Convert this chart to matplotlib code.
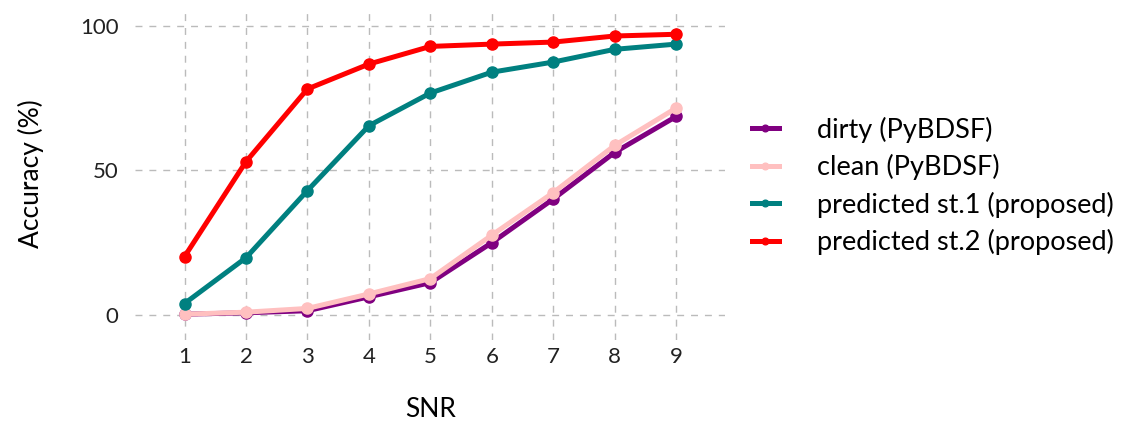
import matplotlib
matplotlib.use("Agg")
from matplotlib import pyplot as plt

plt.rcParams['font.family'] = ['Lato', 'DejaVu Sans']

snr = [1, 2, 3, 4, 5, 6, 7, 8, 9]
dirty = [0.3, 0.8, 1.5, 6.3, 11.2, 25.0, 40.1, 56.2, 68.6]
clean = [0.3, 1.0, 2.3, 7.3, 12.6, 27.6, 42.3, 58.6, 71.5]
pred_st1 = [4.0, 19.8, 43.0, 65.4, 76.7, 83.9, 87.4, 91.8, 93.6]
pred_st2 = [20.2, 53.0, 78.1, 86.7, 92.8, 93.6, 94.3, 96.4, 97.0]

series = [
    (dirty, 'purple', 'dirty (PyBDSF)'),
    (clean, '#ffc0c0', 'clean (PyBDSF)'),
    (pred_st1, 'teal', 'predicted st.1 (proposed)'),
    (pred_st2, 'red', 'predicted st.2 (proposed)'),
]


def main():
    fig = plt.figure(figsize=(11.28, 4.32), dpi=100)
    ax = fig.add_axes([0.12, 0.213, 0.523, 0.768])

    for values, color, label in series:
        ax.plot(snr, values, color=color, lw=3.6, marker='o', ms=8, label=label)

    ax.set_xlim(0.2, 9.8)
    ax.set_ylim(-8.6, 106)
    ax.set_xticks(snr)
    ax.set_yticks([0, 50, 100])
    ax.grid(True, ls=(0, (5, 5)), color='#bbbbbb', lw=1)
    for s in ax.spines.values():
        s.set_visible(False)
    ax.tick_params(length=0, labelsize=16, colors='#222222')
    ax.tick_params(axis='x', pad=5)
    ax.tick_params(axis='y', pad=12)
    ax.set_xlabel('SNR', fontsize=19, labelpad=22)
    ax.set_ylabel('Accuracy (%)', fontsize=19, labelpad=26)

    fig.legend(loc='center left', bbox_to_anchor=(0.645, 0.57), frameon=False,
               fontsize=19.5, handlelength=1.0, handletextpad=1.4, labelspacing=0.42,
               markerscale=0.6)

    fig.savefig('out.png', dpi=100)


if __name__ == "__main__":
    main()
